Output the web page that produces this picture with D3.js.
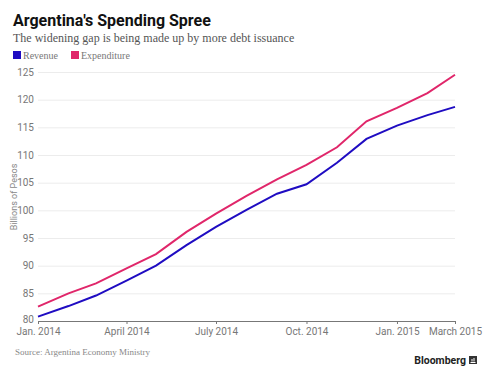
<!DOCTYPE html>
<html>
<head>
<meta charset="utf-8">
<script src="https://cdn.jsdelivr.net/npm/d3@7"></script>
<style>
  body { margin: 0; background: #fff; }
  svg text { font-family: Roboto, "Liberation Sans", sans-serif; }
  .serif { font-family: "Liberation Serif", "DejaVu Serif", serif !important; }
</style>
</head>
<body>
<svg id="chart" width="488" height="375"></svg>
<script>
// monthly values, Jan. 2014 .. March 2015 (billions of pesos)
const months = ['2014-01', '2014-02', '2014-03', '2014-04', '2014-05', '2014-06', '2014-07',
    '2014-08', '2014-09', '2014-10', '2014-11', '2014-12', '2015-01', '2015-02', '2015-03'];
const revenue = [80.8, 82.7, 84.6, 87.3, 90.0, 93.7, 97.0, 100.1, 103.0, 104.7, 108.6, 112.9, 115.3, 117.2, 118.7];
const expenditure = [82.6, 85.0, 86.8, 89.5, 92.1, 96.1, 99.4, 102.6, 105.6, 108.2, 111.4, 116.1, 118.5, 121.2, 124.5];
const y_ticks = [80, 85, 90, 95, 100, 105, 110, 115, 120, 125];
const x_ticks = ['2014-01', '2014-04', '2014-07', '2014-10', '2015-01', '2015-03'];
const x_labels = ['Jan. 2014', 'April 2014', 'July 2014', 'Oct. 2014', 'Jan. 2015', 'March 2015'];
const series = [
    {name: 'Revenue', values: revenue, color: '#1f0cc2'},
    {name: 'Expenditure', values: expenditure, color: '#e0266a'}
];

const parse = d3.timeParse('%Y-%m');
const svg = d3.select('svg#chart');

const x = d3.scaleTime()
    .domain([parse(months[0]), parse(months[months.length - 1])])
    .range([38, 455]);
const y = d3.scaleLinear()
    .domain([80, 125])
    .range([321, 72]);

// titles
svg.append('text')
    .attr('x', 13).attr('y', 26)
    .style('font-size', '16px').style('font-weight', 700).style('fill', '#111')
    .text("Argentina's Spending Spree");
svg.append('text')
    .attr('class', 'serif')
    .attr('x', 13).attr('y', 42)
    .style('font-size', '12px').style('fill', '#555')
    .text('The widening gap is being made up by more debt issuance');

// legend
let legend = svg.append('g').selectAll('g')
    .data(series)
    .enter()
    .append('g')
    .attr('transform', (d, i) => 'translate(' + [13 + i * 58, 51] + ')');
legend.append('rect')
    .attr('width', 8).attr('height', 8)
    .style('fill', d => d.color);
legend.append('text')
    .attr('class', 'serif')
    .attr('x', 10).attr('y', 8)
    .style('font-size', '10px').style('fill', '#777')
    .text(d => d.name);

// grid + y labels
let yAxis = svg.append('g')
    .attr('transform', 'translate(38,0)')
    .call(d3.axisLeft(y).tickValues(y_ticks).tickSize(-417).tickPadding(4));
yAxis.select('.domain').remove();
yAxis.selectAll('.tick line').style('stroke', '#ececec');
yAxis.selectAll('.tick text')
    .style('font-size', '10px').style('fill', '#777')
    .style('font-family', 'Roboto, sans-serif');
// bottom label sits a hair higher so it clears the date labels
yAxis.selectAll('.tick text').filter(d => d === 80).attr('dy', '0.1em');

svg.append('text')
    .attr('transform', 'translate(17,197) rotate(-90)')
    .attr('text-anchor', 'middle')
    .style('font-size', '9px').style('fill', '#888')
    .text('Billions of Pesos');

// x axis
let xAxis = svg.append('g')
    .attr('transform', 'translate(0,321)')
    .call(d3.axisBottom(x)
        .tickValues(x_ticks.map(parse))
        .tickFormat((d, i) => x_labels[i])
        .tickSizeOuter(0).tickSize(3).tickPadding(4));
xAxis.select('.domain').style('stroke', '#777');
xAxis.selectAll('.tick line').style('stroke', '#777');
xAxis.selectAll('.tick text')
    .style('font-size', '10px').style('fill', '#777')
    .style('font-family', 'Roboto, sans-serif');

// lines
let line = d3.line()
    .x((d, i) => x(parse(months[i])))
    .y(d => y(d));
svg.append('g').selectAll('path')
    .data(series)
    .enter()
    .append('path')
    .attr('d', d => line(d.values))
    .style('fill', 'none')
    .style('stroke', d => d.color)
    .style('stroke-width', 2);

// footer
svg.append('text')
    .attr('class', 'serif')
    .attr('x', 15).attr('y', 355)
    .style('font-size', '9px').style('fill', '#888')
    .text('Source: Argentina Economy Ministry');
svg.append('text')
    .attr('x', 466).attr('y', 364)
    .attr('text-anchor', 'end')
    .style('font-size', '10.5px').style('font-weight', 700).style('fill', '#222')
    .text('Bloomberg');
let logo = svg.append('g').attr('transform', 'translate(469,356)');
logo.append('rect')
    .attr('width', 8).attr('height', 8)
    .style('fill', '#333');
logo.append('path')
    .attr('d', 'M1.5,6.5 L6.5,6.5 M3,5.5 L3,3 M5,5.5 L5,2')
    .style('stroke', '#fff').style('stroke-width', 1);
</script>
</body>
</html>
